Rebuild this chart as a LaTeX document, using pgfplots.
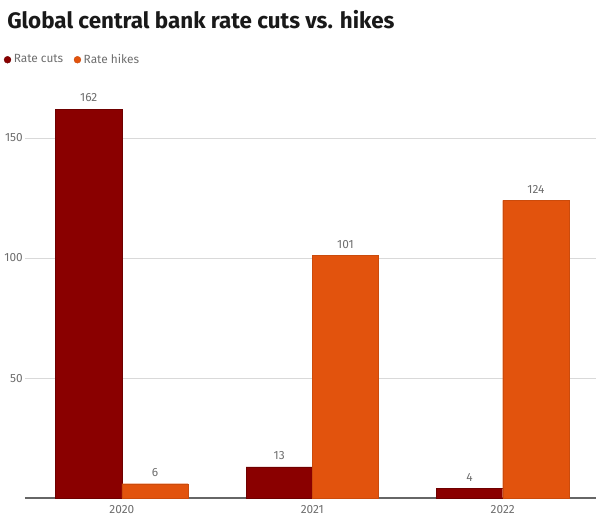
\documentclass[border=0pt]{standalone}
\usepackage{pgfplots}
\pgfplotsset{compat=1.18}
\usetikzlibrary{calc}
\usepackage{fontspec}
\setmainfont{Fira Sans}
\definecolor{cuts}{HTML}{8A0000}
\definecolor{hikes}{HTML}{E2530D}
\definecolor{txt}{HTML}{6E6E6E}
\begin{document}
\begin{tikzpicture}
\begin{axis}[
  name=ax, at={(0,0)}, anchor=south west,
  scale only axis, width=433.5pt, height=309.75pt,
  xmin=-0.51, xmax=2.49, ymin=0, ymax=170,
  xtick={0,1,2}, xticklabels={2020,2021,2022},
  ytick={50,100,150},
  major tick length=0pt,
  ymajorgrids, grid style={draw=black!15, line width=0.6pt},
  axis x line*=bottom, axis y line*=left,
  y axis line style={draw=none},
  x axis line style={draw=black!60, line width=1pt},
  tick label style={font=\fontsize{9}{10}\selectfont, text=txt},
  /pgf/number format/assume math mode=true,
  yticklabel style={anchor=east, xshift=2pt},
  xticklabel style={yshift=-2pt},
  ybar=0pt, bar width=0.348,
  nodes near coords,
  every node near coord/.append style={font=\fontsize{9}{10}\selectfont, text=txt, yshift=2pt},
  legend columns=2,
  legend style={draw=none, fill=none, at={(-0.037,1.074)}, anchor=west,
    font=\fontsize{9}{10}\selectfont, text=txt, inner sep=0pt,
    /tikz/every even column/.append style={column sep=6pt}},
  legend image code/.code={\fill (0.1cm,0cm) circle (2.6pt);},
  clip=false,
]
\addplot[fill=cuts, draw=cuts!80!black, line width=0.3pt, bar shift=-0.174] coordinates {(0,162) (1,13) (2,4)};
\addplot[fill=hikes, draw=hikes!90!black, line width=0.3pt, bar shift=0.174] coordinates {(0,6) (1,101) (2,124)};
\legend{Rate cuts, Rate hikes}
\end{axis}
\node[anchor=base west, inner sep=0pt, font=\fontsize{17}{18}\selectfont\bfseries, text=black!90] at ($(ax.south west)+(-13.5pt,356.25pt)$) {Global central bank rate cuts vs. hikes};
\path[use as bounding box] ($(ax.south west)+(-13.5pt,-14.25pt)$) rectangle +(450pt,392.25pt);
\end{tikzpicture}
\end{document}
